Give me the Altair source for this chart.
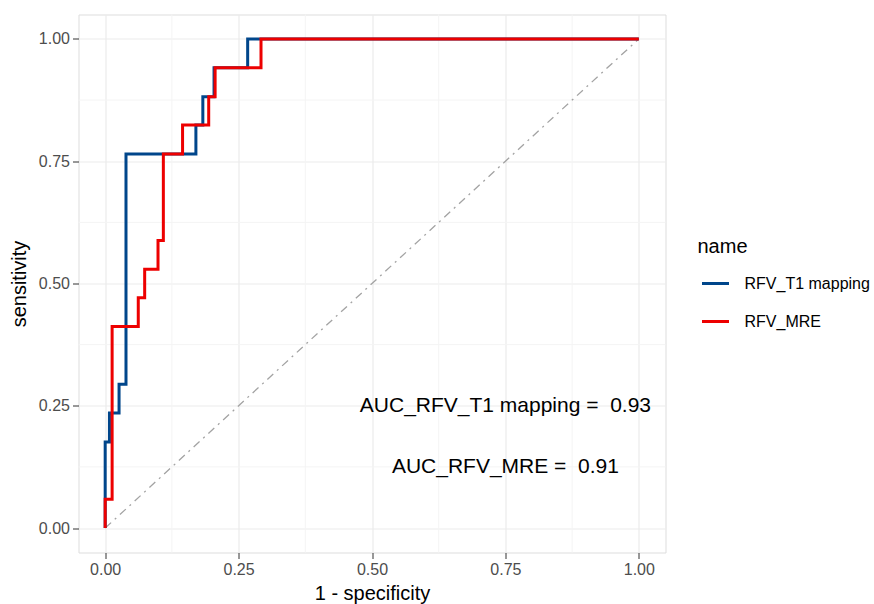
import altair as alt
import pandas as pd

# ROC points (1 - specificity, sensitivity)
t1_fpr = [0.0, 0.0, 0.008, 0.026, 0.039, 0.170, 0.183, 0.204, 0.267, 1.0]
t1_tpr = [0.0, 0.176, 0.235, 0.294, 0.765, 0.824, 0.882, 0.941, 1.0, 1.0]

mre_fpr = [0.0, 0.0, 0.013, 0.062, 0.074, 0.099, 0.109, 0.145, 0.194, 0.206, 0.292, 1.0]
mre_tpr = [0.0, 0.059, 0.412, 0.471, 0.529, 0.588, 0.765, 0.824, 0.882, 0.941, 1.0, 1.0]

series_names = ["RFV_T1 mapping", "RFV_MRE"]
series_colors = ["#00468B", "#ED0000"]

diag_x = [0.0, 1.0]
diag_y = [0.0, 1.0]

auc_x = [0.75, 0.75]
auc_y = [0.25, 0.125]
auc_labels = ["AUC_RFV_T1 mapping =\u00a0 0.93", "AUC_RFV_MRE =\u00a0 0.91"]

major_ticks = [0, 0.25, 0.5, 0.75, 1.0]
minor_ticks = [0.125, 0.375, 0.625, 0.875]

rows = []
for nm, xs, ys in [(series_names[0], t1_fpr, t1_tpr), (series_names[1], mre_fpr, mre_tpr)]:
    for i, (a, b) in enumerate(zip(xs, ys)):
        rows.append({"name": nm, "fpr": a, "tpr": b, "idx": i})
roc = pd.DataFrame(rows)
diag = pd.DataFrame({"fpr": diag_x, "tpr": diag_y})
auc = pd.DataFrame({"fpr": auc_x, "tpr": auc_y, "label": auc_labels})
minor = pd.DataFrame({"v": minor_ticks})

FONT = "Liberation Sans"
xscale = alt.Scale(domain=[-0.05, 1.05], nice=False, zero=False)
yscale = alt.Scale(domain=[-0.05, 1.05], nice=False, zero=False)


def major_axis(title, title_pad):
    return alt.Axis(
        values=major_ticks, format=".2f", title=title,
        labelFontSize=16, labelColor="#4D4D4D", labelFont=FONT,
        titleFontSize=20, titleColor="#000000", titleFont=FONT, titleFontWeight="normal",
        titlePadding=title_pad,
        tickColor="#333333", tickSize=6, tickWidth=1, labelPadding=3,
        grid=True, gridColor="#EBEBEB", gridWidth=1.2, domain=False,
    )


XENC = dict(scale=xscale, axis=major_axis("1 - specificity", 6))
YENC = dict(scale=yscale, axis=major_axis("sensitivity", 9))

minor_v = alt.Chart(minor).mark_rule(color="#F4F4F4", strokeWidth=1).encode(
    x=alt.X("v:Q", **XENC)
)
minor_h = alt.Chart(minor).mark_rule(color="#F4F4F4", strokeWidth=1).encode(
    y=alt.Y("v:Q", **YENC)
)

diag_layer = alt.Chart(diag).mark_line(
    color="#A3A3A3", strokeWidth=1.3, strokeDash=[8, 5, 2, 5]
).encode(
    x=alt.X("fpr:Q", **XENC),
    y=alt.Y("tpr:Q", **YENC),
)

color = alt.Color(
    "name:N",
    scale=alt.Scale(domain=series_names, range=series_colors),
    sort=series_names,
    legend=alt.Legend(
        title="name", orient="none", legendX=619, legendY=222,
        titleFontSize=20, titleFont=FONT, titleFontWeight="normal", titleColor="#000000",
        titlePadding=12,
        labelFontSize=16, labelFont=FONT, labelColor="#000000",
        symbolType="stroke", symbolStrokeWidth=3, symbolSize=729,
        symbolOffset=3, labelOffset=14, rowPadding=15,
    ),
)


def roc_layer(nm):
    return alt.Chart(roc).transform_filter(alt.datum.name == nm).mark_line(
        interpolate="step-after", strokeWidth=3
    ).encode(
        x=alt.X("fpr:Q", **XENC),
        y=alt.Y("tpr:Q", **YENC),
        color=color,
        order="idx:Q",
    )


text_layer = alt.Chart(auc).mark_text(
    fontSize=21, font=FONT, color="#000000", align="center", baseline="middle"
).encode(
    x=alt.X("fpr:Q", **XENC),
    y=alt.Y("tpr:Q", **YENC),
    text="label:N",
)

chart = alt.layer(
    minor_v, minor_h, diag_layer, roc_layer(series_names[0]), roc_layer(series_names[1]), text_layer
).properties(
    width=587, height=538,
    autosize=alt.AutoSizeParams(type="none"),
    padding={"left": 78.5, "top": 14.5, "right": 208.5, "bottom": 51.5},
).configure_view(stroke="#333333", strokeWidth=1).configure_axis(
    translate=0
).configure(background="white")

chart.save("out.html", embed_options={"renderer": "svg", "actions": False})
